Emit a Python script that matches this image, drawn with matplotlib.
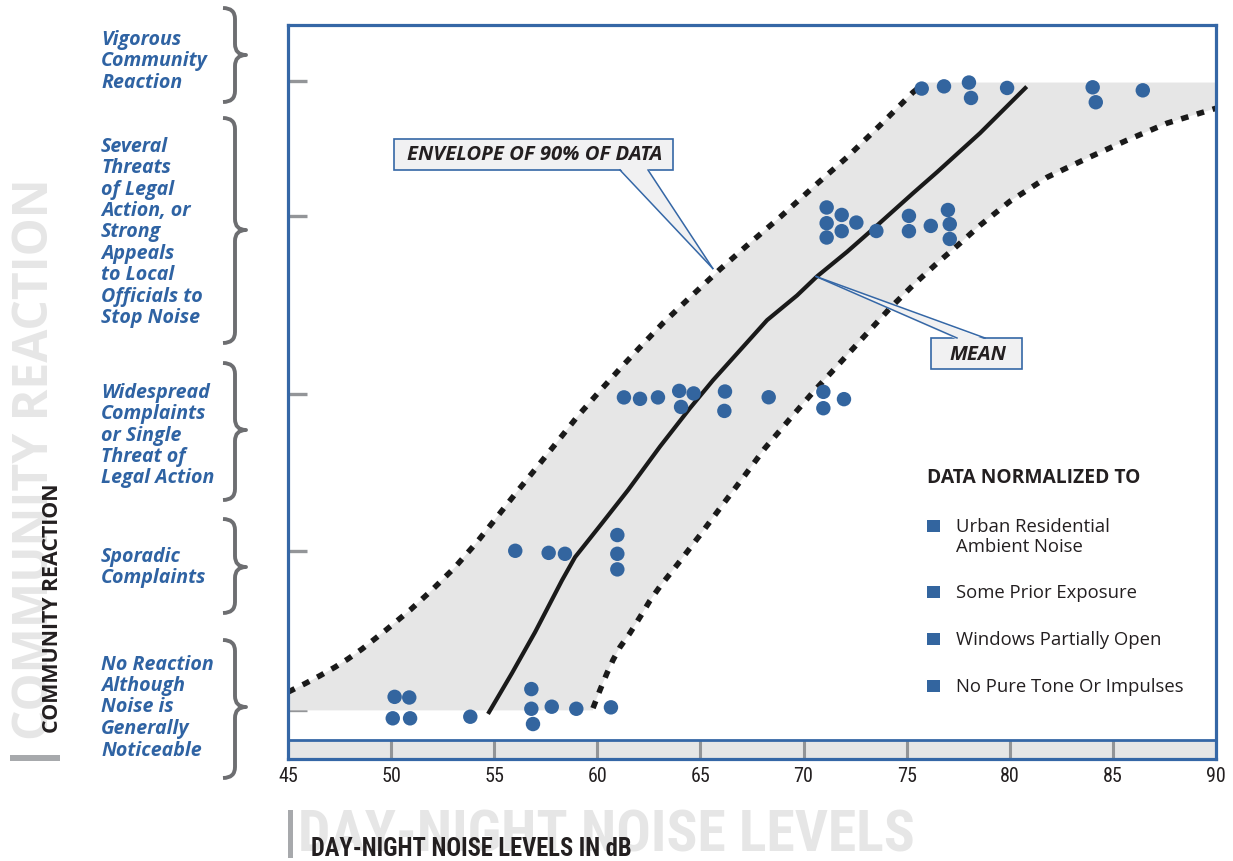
import matplotlib
matplotlib.use("Agg")
import matplotlib.pyplot as plt
from matplotlib import font_manager as fm
from matplotlib.path import Path
from matplotlib.patches import PathPatch, Polygon, Rectangle
from matplotlib.lines import Line2D

W, H, DPI = 1233, 861, 100

# ---------------- data ----------------
NOISE_TICKS = [45, 50, 55, 60, 65, 70, 75, 80, 85, 90]
REACTION_LEVELS = [0.0, 1.0, 1.99, 3.11, 3.96]   # y position of each reaction category

# individual community cases: normalized Ldn (dB) and observed reaction
none_ldn = [50.17, 50.88, 50.08, 50.92, 53.84, 56.80, 56.80, 56.88, 57.79, 58.98, 60.66]
none_rx = [0.085, 0.081, -0.050, -0.050, -0.040, 0.134, 0.010, -0.086, 0.023, 0.010, 0.019]

sporadic_ldn = [56.02, 57.64, 58.43, 60.97, 60.97, 60.97]
sporadic_rx = [1.004, 0.991, 0.985, 1.103, 0.985, 0.887]

widespread_ldn = [61.29, 62.07, 62.94, 63.97, 64.06, 64.67, 66.19, 66.16, 68.31, 70.96, 70.96, 71.96]
widespread_rx = [1.969, 1.960, 1.969, 2.010, 1.909, 1.994, 2.006, 1.884, 1.970, 2.004, 1.901, 1.958]

threats_ldn = [71.12, 71.12, 71.12, 71.85, 71.85, 72.56, 73.53, 75.11, 75.11, 76.17, 77.00, 77.09, 77.09]
threats_rx = [3.164, 3.065, 2.975, 3.117, 3.015, 3.069, 3.016, 3.111, 3.015, 3.048, 3.148, 3.059, 2.966]

vigorous_ldn = [75.73, 76.81, 78.02, 78.12, 79.87, 84.02, 84.17, 86.45]
vigorous_rx = [3.912, 3.926, 3.950, 3.853, 3.916, 3.920, 3.826, 3.901]

# mean reaction curve
mean_ldn = [54.75, 55.86, 56.98, 58.29, 58.92, 60.23, 61.49, 63.04, 64.49, 65.61,
            66.92, 68.23, 69.68, 70.65, 72.11, 73.47, 75.31, 76.47, 78.56, 80.75]
mean_rx = [-0.011, 0.234, 0.492, 0.819, 0.964, 1.178, 1.386, 1.660, 1.901, 2.077,
           2.266, 2.455, 2.610, 2.730, 2.885, 3.040, 3.254, 3.386, 3.632, 3.915]

# envelope containing 90% of the cases
upper_ldn = [45.00, 45.82, 46.55, 47.28, 47.91, 48.59, 49.70, 50.92, 51.98, 53.10,
             54.16, 55.13, 56.10, 57.07, 58.04, 59.01, 60.03, 61.10, 62.07, 63.18,
             64.35, 65.95, 67.26, 68.86, 70.46, 72.11, 73.71, 75.31, 75.55]
upper_rx = [0.115, 0.168, 0.218, 0.272, 0.324, 0.386, 0.500, 0.631, 0.757, 0.901,
            1.058, 1.216, 1.375, 1.530, 1.687, 1.845, 1.996, 2.150, 2.285, 2.436,
            2.581, 2.775, 2.925, 3.103, 3.291, 3.480, 3.681, 3.889, 3.914]

lower_ldn = [59.79, 60.13, 60.47, 60.76, 61.10, 61.58, 62.07, 62.55, 63.04, 63.86,
             64.98, 65.95, 67.16, 68.13, 69.49, 70.46, 71.67, 73.08, 74.19, 75.31,
             76.47, 77.59, 78.56, 80.01, 81.81, 83.74, 85.68, 87.62, 90.00]
lower_rx = [0.014, 0.128, 0.235, 0.317, 0.398, 0.486, 0.587, 0.690, 0.780, 0.914,
            1.103, 1.272, 1.480, 1.650, 1.857, 2.002, 2.172, 2.373, 2.530, 2.675,
            2.813, 2.939, 3.052, 3.203, 3.354, 3.473, 3.587, 3.694, 3.788]

ENVELOPE_FLOOR = 0.0
ENVELOPE_CEILING = 3.95

CATEGORY_LINES = [
    ["Vigorous", "Community", "Reaction"],
    ["Several", "Threats", "of Legal", "Action, or", "Strong", "Appeals",
     "to Local", "Officials to", "Stop Noise"],
    ["Widespread", "Complaints", "or Single", "Threat of", "Legal Action"],
    ["Sporadic", "Complaints"],
    ["No Reaction", "Although", "Noise is", "Generally", "Noticeable"],
]
LEGEND_TITLE = "DATA NORMALIZED TO"
LEGEND_ITEMS = [["Urban Residential", "Ambient Noise"], ["Some Prior Exposure"],
                ["Windows Partially Open"], ["No Pure Tone Or Impulses"]]

# ---------------- styling ----------------
BLUE = "#2f63a3"
DOT = "#33659f"
FRAME = "#3567a6"
GREY_TICK = "#939598"
BRACE = "#6d6e71"
FILL = "#e6e6e6"
CALLOUT_FILL = "#f1f1f2"
INK = "#231f20"
WATERMARK = "#e6e6e6"

SANS = ["Open Sans", "DejaVu Sans"]


def narrow_font():
    """Pick a condensed sans face if one is installed."""
    names = {f.name for f in fm.fontManager.ttflist}
    for name in ["Liberation Sans Narrow", "DejaVu Sans Condensed", "Roboto Condensed",
                 "Open Sans Condensed", "Noto Sans Condensed"]:
        if name in names:
            return dict(family=[name, "DejaVu Sans"])
    for f in fm.fontManager.ttflist:
        if str(f.stretch) in ("condensed", "semi-condensed", "extra-condensed") and f.name in names:
            return dict(family=[f.name, "DejaVu Sans"], fontstretch=f.stretch)
    return dict(family=["DejaVu Sans"])


NARROW = narrow_font()

fig = plt.figure(figsize=(W / DPI, H / DPI), dpi=DPI)
renderer = fig.canvas.get_renderer()


def fpt(x, y):
    """Figure-pixel (origin top-left) to figure fraction."""
    return x / W, 1 - y / H


def fit(t, target, along="width"):
    t.set_fontsize(20)
    bb = t.get_window_extent(renderer)
    size = bb.width if along == "width" else bb.height
    t.set_fontsize(20 * target / size)
    return t


# axes frame
ax = fig.add_axes([288 / W, 1 - 759 / H, (1216 - 288) / W, (759 - 25) / H])
YMIN, YMAX, BAND_TOP = -0.306, 4.312, -0.187
ax.set_xlim(NOISE_TICKS[0], NOISE_TICKS[-1])
ax.set_ylim(YMIN, YMAX)
for s in ax.spines.values():
    s.set_color(FRAME)
    s.set_linewidth(2.3)
    s.set_zorder(8)

# grey strip along the bottom with tick dividers
ax.axhspan(YMIN, BAND_TOP, color=FILL, zorder=1, lw=0)
ax.axhline(BAND_TOP, color=FRAME, lw=2.0, zorder=7)
ax.vlines(NOISE_TICKS[1:-1], YMIN, BAND_TOP, colors=GREY_TICK, lw=2.2, zorder=6)

ax.set_xticks(NOISE_TICKS)
ax.set_xticklabels([str(v) for v in NOISE_TICKS], fontsize=14.5, color=INK, **NARROW)
ax.tick_params(axis="x", length=0, pad=6)
ax.set_yticks(REACTION_LEVELS)
ax.set_yticklabels([])
ax.tick_params(axis="y", direction="in", length=14, width=2.4, color=GREY_TICK)
for tl in ax.yaxis.get_ticklines():
    tl.set_zorder(9)

# 90% envelope shading
poly_x = ([upper_ldn[0]] + upper_ldn + [upper_ldn[-1] + 0.3, NOISE_TICKS[-1], NOISE_TICKS[-1]]
          + lower_ldn[::-1] + [lower_ldn[0], NOISE_TICKS[0]])
poly_y = ([ENVELOPE_FLOOR] + upper_rx + [ENVELOPE_CEILING, ENVELOPE_CEILING, lower_rx[-1]]
          + lower_rx[::-1] + [ENVELOPE_FLOOR, ENVELOPE_FLOOR])
ax.fill(poly_x, poly_y, color=FILL, lw=0, zorder=2)

dots = (0, (1.35, 1.6))
ax.plot(upper_ldn, upper_rx, color="#1a1a1a", lw=4.0, ls=dots, zorder=3)
ax.plot(lower_ldn, lower_rx, color="#1a1a1a", lw=4.0, ls=dots, zorder=3)
ax.plot(mean_ldn, mean_rx, color="#1a1a1a", lw=3.0, solid_joinstyle="round", zorder=3)

for xs, ys in [(none_ldn, none_rx), (sporadic_ldn, sporadic_rx), (widespread_ldn, widespread_rx),
               (threats_ldn, threats_rx), (vigorous_ldn, vigorous_rx)]:
    ax.scatter(xs, ys, s=108, color=DOT, edgecolors="none", zorder=4, clip_on=False)


# ---------------- callouts ----------------
def data_px(x, y):
    dx, dy = ax.transData.transform((x, y))
    return dx, H - dy


def callout(text, box, base, tip, bottom_base=True):
    x0, y0, x1, y1 = box
    fx0, fy1 = fpt(x0, y1)
    fx1, fy0 = fpt(x1, y0)
    fig.patches.append(Rectangle((fx0, fy1), fx1 - fx0, fy0 - fy1, transform=fig.transFigure,
                                 facecolor=CALLOUT_FILL, edgecolor=FRAME, lw=1.2, zorder=10))
    by = y1 if bottom_base else y0
    inset = 1.5 if bottom_base else -1.5
    pts = [fpt(base[0], by - inset), fpt(base[1], by - inset), fpt(*tip)]
    fig.patches.append(Polygon(pts, closed=True, transform=fig.transFigure,
                               facecolor=CALLOUT_FILL, edgecolor="none", zorder=11))
    for bx in base:
        xa, ya = fpt(bx, by)
        xb, yb = fpt(*tip)
        fig.lines.append(Line2D([xa, xb], [ya, yb], transform=fig.transFigure,
                                color=FRAME, lw=1.1, zorder=12))
    t = fig.text(*fpt((x0 + x1) / 2 + 1, (y0 + y1) / 2 + 1), text, ha="center", va="center",
                 family=SANS, weight="bold", style="italic", color=INK, zorder=13)
    return t


env_tip = data_px(65.6, 2.78)
t_env = callout("ENVELOPE OF 90% OF DATA", (394, 139, 673, 170), (620, 648), env_tip)
fit(t_env, 255)
mean_tip = data_px(70.6, 2.73)
t_mean = callout("MEAN", (931, 338, 1022, 369), (957, 985), mean_tip, bottom_base=False)
t_mean.set_fontsize(t_env.get_fontsize())

# ---------------- legend ----------------
t = fig.text(*fpt(927, 483), LEGEND_TITLE, ha="left", va="baseline", family=SANS,
             weight="bold", color=INK)
fit(t, 214)
legend_baselines = [531.7, 598, 645, 691.7]
item_texts = []
for lines, base in zip(LEGEND_ITEMS, legend_baselines):
    fx, fy = fpt(927, base)
    fig.patches.append(Rectangle((fx, fy), 13 / W, 12 / H, transform=fig.transFigure,
                                 facecolor=DOT, edgecolor="none"))
    for i, line in enumerate(lines):
        item_texts.append(fig.text(*fpt(956, base + 20 * i), line, ha="left", va="baseline",
                                   family=SANS, color=INK))
fit(item_texts[-1], 227)
for it in item_texts:
    it.set_fontsize(item_texts[-1].get_fontsize())

# ---------------- reaction categories with braces ----------------
BRACE_SPANS = [(8, 55, 102), (118, 230, 343), (363, 430, 500), (519, 567, 613), (640, 707, 778)]
LABEL_CENTERS = [58.5, 230, 433, 565, 705]
LINE_STEP = 21.5


def brace(top, mid, bot, xl=223, xm=235, xt=246, r=11):
    pts = [(xl, top), (xm, top), (xm, top + r),
           (xm, mid - r),
           (xm, mid), (xt, mid),
           (xm, mid), (xm, mid + r),
           (xm, bot - r),
           (xm, bot), (xl, bot)]
    codes = [Path.MOVETO, Path.CURVE3, Path.CURVE3, Path.LINETO, Path.CURVE3, Path.CURVE3,
             Path.CURVE3, Path.CURVE3, Path.LINETO, Path.CURVE3, Path.CURVE3]
    verts = [fpt(x, y) for x, y in pts]
    fig.patches.append(PathPatch(Path(verts, codes), transform=fig.transFigure, fill=False,
                                 edgecolor=BRACE, lw=2.8, capstyle="butt", joinstyle="round"))


for (top, mid, bot) in BRACE_SPANS:
    brace(top, mid, bot)

probe = fig.text(0, 0, "Community", family=SANS, weight="bold", style="italic")
fit(probe, 107)
cat_size = probe.get_fontsize()
probe.remove()

for lines, yc in zip(CATEGORY_LINES, LABEL_CENTERS):
    n = len(lines)
    for i, line in enumerate(lines):
        y = yc + (i - (n - 1) / 2) * LINE_STEP
        fig.text(*fpt(101, y), line, ha="left", va="center_baseline", family=SANS,
                 weight="bold", style="italic", color=BLUE, fontsize=cat_size)

# ---------------- axis titles ----------------
wm = fig.text(*fpt(298, 851), "DAY-NIGHT NOISE LEVELS", ha="left", va="baseline",
              weight="bold", color=WATERMARK, zorder=0, **NARROW)
fit(wm, 617)
fig.patches.append(Rectangle(fpt(288, 858), 5 / W, 48 / H, transform=fig.transFigure,
                             facecolor="#a7a9ac", edgecolor="none"))
xl_ = fig.text(*fpt(311, 856), "DAY-NIGHT NOISE LEVELS IN dB", ha="left", va="baseline",
               weight="bold", color=INK, zorder=2, **NARROW)
fit(xl_, 322)

wmy = fig.text(*fpt(36, 740), "COMMUNITY REACTION", ha="left", va="center",
               rotation=90, rotation_mode="anchor", family=SANS, weight="bold",
               color=WATERMARK, zorder=0)
fit(wmy, 562, along="height")
fig.patches.append(Rectangle(fpt(10, 761), 50 / W, 6 / H, transform=fig.transFigure,
                             facecolor="#a7a9ac", edgecolor="none"))
yl_ = fig.text(*fpt(52.5, 733), "COMMUNITY REACTION", ha="left", va="center",
               rotation=90, rotation_mode="anchor", family=SANS, weight="bold",
               color=INK, zorder=2)
fit(yl_, 250, along="height")

fig.savefig("out.png", dpi=DPI)
